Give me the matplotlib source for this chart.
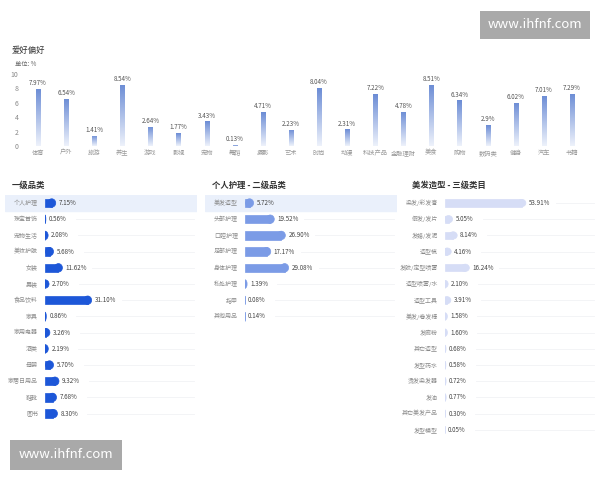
import numpy as np
import matplotlib.pyplot as plt
from matplotlib.patches import Ellipse, Rectangle
from matplotlib.colors import LinearSegmentedColormap

plt.rcParams['font.family'] = ['Noto Sans CJK SC', 'DejaVu Sans']

# ---- données ----
hobby_labels = ["体育", "户外", "旅游", "养生", "游戏", "影视", "宠物", "舞蹈", "摄影", "艺术",
                "时尚", "动漫", "科技产品", "金融理财", "美食", "购物", "数码类", "健身", "汽车", "书籍"]
hobby_values = [7.97, 6.54, 1.41, 8.54, 2.64, 1.77, 3.43, 0.13, 4.71, 2.23,
                8.04, 2.31, 7.22, 4.78, 8.51, 6.34, 2.9, 6.02, 7.01, 7.29]
hobby_texts = ["7.97%", "6.54%", "1.41%", "8.54%", "2.64%", "1.77%", "3.43%", "0.13%", "4.71%", "2.23%",
               "8.04%", "2.31%", "7.22%", "4.78%", "8.51%", "6.34%", "2.9%", "6.02%", "7.01%", "7.29%"]

cat1_labels = ["个人护理", "珠宝首饰", "宠物生活", "美妆护肤", "女装", "男装", "食品饮料",
               "家具", "家用电器", "酒类", "母婴", "家居日用品", "鞋靴", "图书"]
cat1_values = [7.15, 0.56, 2.08, 5.68, 11.62, 2.70, 31.10, 0.86, 3.26, 2.19, 5.70, 9.32, 7.68, 8.30]

cat2_labels = ["美发造型", "头部护理", "口腔护理", "足部护理", "身体护理", "私处护理", "指甲", "其他用品"]
cat2_values = [5.72, 19.52, 26.90, 17.17, 29.08, 1.39, 0.08, 0.14]

cat3_labels = ["染发/彩发膏", "假发/发片", "发蜡/发泥", "造型梳", "发胶/定型喷雾", "造型喷雾/水",
               "造型工具", "美发/卷发棒", "发廊粉", "其它造型", "发型药水", "烫发染发器",
               "发油", "其它美发产品", "发型模型"]
cat3_values = [53.91, 5.05, 8.14, 4.16, 16.24, 2.10, 3.91, 1.58, 1.60, 0.68, 0.58, 0.72, 0.77, 0.30, 0.05]

W, H = 600, 480
fig = plt.figure(figsize=(6, 4.8), dpi=100)


def px_axes(x0, y0, x1, y1):
    return fig.add_axes([x0 / W, 1 - y1 / H, (x1 - x0) / W, (y1 - y0) / H])


# ---- graphique du haut ----
fig.text(12 / W, 1 - 50 / H, "爱好偏好", fontsize=6, color="#333333", va="center")
fig.text(15 / W, 1 - 64 / H, "单位: %", fontsize=4.5, color="#666666", va="center")

ax = px_axes(24, 74, 586, 146)
x = np.arange(len(hobby_values))
bars = ax.bar(x, hobby_values, width=0.15, color="none", edgecolor="none")
cmap = LinearSegmentedColormap.from_list("g", ["#eef2fb", "#6b8cd5"])
grad = np.linspace(0, 1, 256).reshape(-1, 1)
for b in bars:
    im = ax.imshow(grad, cmap=cmap, aspect="auto", origin="lower",
                   extent=[b.get_x(), b.get_x() + b.get_width(), 0, max(b.get_height(), 0.12)])
    im.set_clip_path(b)
    if b.get_height() < 0.3:
        b.set_edgecolor("#8aa3dd")
        b.set_linewidth(0.6)
for xi, v, t in zip(x, hobby_values, hobby_texts):
    ax.text(xi, v + 0.25, t, ha="center", va="bottom", fontsize=4.5, color="#555555")
ax.set_xlim(-0.5, len(x) - 0.5)
ax.set_ylim(0, 10)
ax.set_yticks([0, 2, 4, 6, 8, 10])
ax.set_xticks(x)
ax.set_xticklabels(hobby_labels)
ax.tick_params(axis="both", length=0, labelsize=4.5, colors="#999999", pad=2)
ax.tick_params(axis="y", labelsize=5, pad=4, colors="#888888")
for s in ax.spines.values():
    s.set_visible(False)


# ---- barres horizontales ----
ROW = 16.2
UNIT = 1.5  # px par %


def hbar_panel(x0, title, labels, values, color, bar_h, highlight):
    n = len(values)
    left = x0 + 5
    right = x0 + 197
    zero = x0 + 45
    y_top = 203 - ROW / 2
    a = px_axes(left, y_top, right, y_top + n * ROW)
    a.set_xlim(-(zero - left) / UNIT, (right - zero) / UNIT)
    a.set_ylim(n - 0.5, -0.5)
    a.axis("off")
    fig.text((x0 + 12) / W, 1 - 185 / H, title, fontsize=6, fontweight="bold",
             color="#333333", va="center")
    if highlight:
        a.axhspan(-0.5, 0.5, color="#eaf0fb", zorder=0)
    r = 4 / UNIT
    for i, (lab, v) in enumerate(zip(labels, values)):
        a.text(-7 / UNIT, i, lab, ha="right", va="center", fontsize=4.3, color="#8a8a8a")
        if i > 0 or not highlight:
            a.plot([v + 20, (right - zero) / UNIT - 2], [i, i], color="#f1f2f5", lw=0.6, zorder=1)
        re = min(r, v)
        a.barh(i, max(v - re, 0), height=bar_h, left=0, color=color, edgecolor=color,
               linewidth=0.5, zorder=3)
        el = Ellipse((v - re, i), 2 * re, bar_h, facecolor=color, edgecolor=color,
                     linewidth=0.5, zorder=3)
        a.add_patch(el)
        clip = Rectangle((0, i - bar_h), v + 1, 2 * bar_h, transform=a.transData)
        el.set_clip_path(clip)
        a.text(v + 3 / UNIT, i, f"{v:.2f}%", ha="left", va="center", fontsize=4.5,
               color="#444444", zorder=4,
               bbox=dict(facecolor="white" if (i > 0 or not highlight) else "#eaf0fb",
                         edgecolor="none", pad=0.6))


hbar_panel(0, "一级品类", cat1_labels, cat1_values, "#1d57d8", 0.52, True)
hbar_panel(200, "个人护理 - 二级品类", cat2_labels, cat2_values, "#7b9be6", 0.52, True)
hbar_panel(400, "美发造型 - 三级类目", cat3_labels, cat3_values, "#d6ddf6", 0.45, False)

# ---- filigranes ----
fig.text(535 / W, 1 - 25 / H, "www.ihfnf.com", fontsize=9.5, color="white",
         ha="center", va="center",
         bbox=dict(facecolor="#a9a9a9", edgecolor="none", boxstyle="square,pad=0.6"))
fig.text(66 / W, 1 - 455 / H, "www.ihfnf.com", fontsize=9.5, color="white",
         ha="center", va="center",
         bbox=dict(facecolor="#a9a9a9", edgecolor="none", boxstyle="square,pad=0.65"))

fig.savefig("out.png", dpi=100, facecolor="white")
